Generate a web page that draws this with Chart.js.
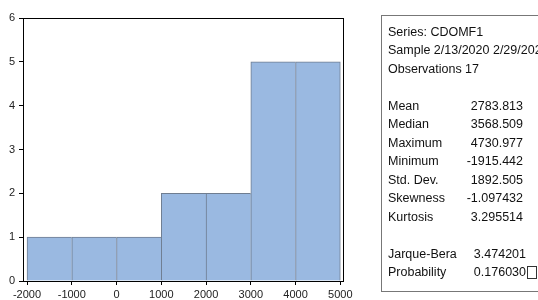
<!DOCTYPE html>
<html>
<head>
<meta charset="utf-8">
<script src="https://cdn.jsdelivr.net/npm/chart.js@4.4.1/dist/chart.umd.min.js"></script>
<style>
  body { margin: 0; background: #fff; }
  #wrap { width: 538px; height: 300px; }
</style>
</head>
<body>
<div id="wrap"><canvas id="histCanvas" width="538" height="300"></canvas></div>
<script>
// histogram bins (lower edge) and counts
const binStarts = [-2000, -1000, 0, 1000, 2000, 3000, 4000];
const binWidth = 1000;
const counts = [1, 1, 1, 2, 2, 5, 5];
const xTicks = [-2000, -1000, 0, 1000, 2000, 3000, 4000, 5000];
const yTicks = [0, 1, 2, 3, 4, 5, 6];

// descriptive statistics panel
const headerLines = ['Series: CDOMF1', 'Sample 2/13/2020 2/29/2020', 'Observations 17'];
const statLabels = ['Mean', 'Median', 'Maximum', 'Minimum', 'Std. Dev.', 'Skewness', 'Kurtosis'];
const statValues = ['2783.813', '3568.509', '4730.977', '-1915.442', '1892.505', '-1.097432', '3.295514'];
const testLabels = ['Jarque-Bera', 'Probability'];
const testValues = ['3.474201', '0.176030'];

const fontFam = '"Liberation Sans", Arial, sans-serif';
Chart.defaults.font.family = fontFam;

// frame round the plot + the stats box on the right
const framePlugin = {
    id: 'frame',
    afterDraw(chart) {
        const c = chart.ctx;
        const a = chart.chartArea;
        c.save();
        c.strokeStyle = '#000';
        c.lineWidth = 1;
        c.strokeRect(Math.round(a.left) + 0.5, Math.round(a.top) + 0.5,
                     Math.round(a.right - a.left), Math.round(a.bottom - a.top));

        // stats box
        c.strokeStyle = '#777';
        c.strokeRect(381.5, 15.5, 200, 276);
        c.fillStyle = '#111';
        c.font = '12.5px ' + fontFam;
        c.textBaseline = 'middle';
        const lx = 388, rx = 523, y0 = 32.5, dy = 18.5;
        let row = 0;
        headerLines.forEach(t => {
            c.textAlign = 'left';
            c.fillText(t, lx, y0 + dy * row++);
        });
        row++;
        statLabels.forEach((t, i) => {
            const y = y0 + dy * row++;
            c.textAlign = 'left';
            c.fillText(t, lx, y);
            c.textAlign = 'right';
            c.fillText(statValues[i], rx, y);
        });
        row++;
        testLabels.forEach((t, i) => {
            const y = y0 + dy * row++;
            c.textAlign = 'left';
            c.fillText(t, lx, y);
            c.textAlign = 'right';
            c.fillText(testValues[i], rx + 3, y);
        });
        // little empty box after the probability value
        const py = y0 + dy * (row - 1);
        c.strokeStyle = '#333';
        c.strokeRect(527.5, py - 6.5, 9, 12);
        c.restore();
    }
};

const points = binStarts.map((s, i) => ({ x: s + binWidth / 2, y: counts[i] }));

const ctx = document.getElementById('histCanvas').getContext('2d');
const chart = new Chart(ctx, {
    type: 'bar',
    data: {
        datasets: [{
            data: points,
            backgroundColor: '#9ab9e1',
            borderColor: '#6f7d90',
            borderWidth: c => c.dataIndex === counts.length - 1
                ? { top: 1, left: 1, right: 1, bottom: 0 }
                : { top: 1, left: 1, right: 0, bottom: 0 },
            barPercentage: 1,
            categoryPercentage: 1
        }]
    },
    options: {
        responsive: false,
        animation: false,
        layout: { padding: { left: 0, top: 18, right: 195, bottom: 0 } },
        plugins: { legend: { display: false }, tooltip: { enabled: false } },
        scales: {
            x: {
                type: 'linear',
                offset: false,
                min: -2090,
                max: 5060,
                afterBuildTicks: s => { s.ticks = xTicks.map(v => ({ value: v })); },
                afterFit: s => { s.height = 19; },
                grid: { offset: false, drawOnChartArea: false, drawTicks: true, tickLength: 4, color: '#000' },
                border: { color: '#000' },
                ticks: { color: '#222', padding: 3, maxRotation: 0, font: { size: 11 },
                         callback: v => String(v) }
            },
            y: {
                min: 0,
                max: 6,
                afterBuildTicks: s => { s.ticks = yTicks.map(v => ({ value: v })); },
                afterFit: s => { s.width = 23; },
                grid: { drawOnChartArea: false, drawTicks: true, tickLength: 4, color: '#000' },
                border: { color: '#000' },
                ticks: { color: '#222', padding: 4, font: { size: 11 } }
            }
        }
    },
    plugins: [framePlugin]
});
</script>
</body>
</html>
